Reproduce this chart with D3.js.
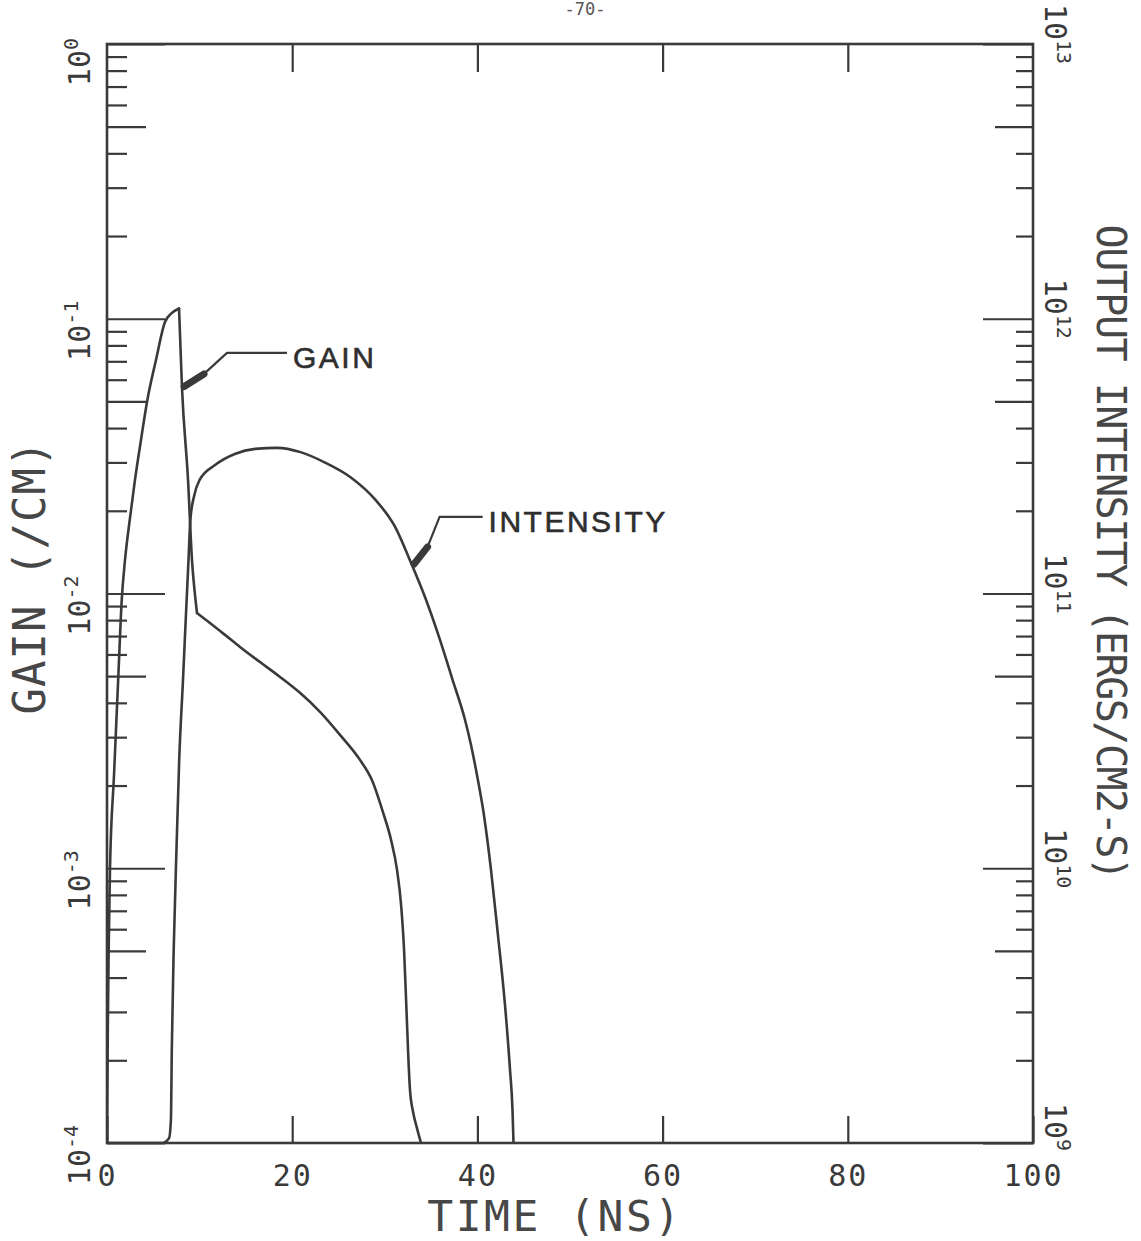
<!DOCTYPE html>
<html>
<head>
<meta charset="utf-8">
<script src="https://cdn.jsdelivr.net/npm/d3@7"></script>
<style>
  html, body { margin: 0; padding: 0; background: #fff; }
  svg { display: block; }
</style>
</head>
<body>
<div id="chart"></div>
<script>
// Time axis (ns)
const timeTicks = [0, 20, 40, 60, 80, 100];
const timeTopTicks = [20, 40, 60, 80];

// Left axis: gain (/cm), log decades
const gainDecades = [1e-4, 1e-3, 1e-2, 1e-1, 1e0];
// Right axis: output intensity (ergs/cm2-s), log decades
const intensityDecades = [1e9, 1e10, 1e11, 1e12, 1e13];

// Gain vs time
const gainTime = [0, 0.086, 0.194, 0.324, 0.756, 1.22, 1.59, 1.94, 2.48, 3.02, 3.67, 4.32,
  5.29, 6.26, 7.02, 7.78, 8.1, 8.75, 9.18, 9.5, 9.72, 11.12, 12.74, 14.36, 16.52, 18.68,
  20.84, 23.0, 25.16, 27.32, 28.62, 29.8, 30.67, 31.32, 31.76, 32.08, 32.3, 32.51, 32.72,
  33.05, 33.48, 33.91];
const gainValue = [1.0e-4, 2.58e-4, 5.48e-4, 1.0e-3, 2.18e-3, 4.97e-3, 9.46e-3, 1.32e-2,
  1.88e-2, 2.59e-2, 3.62e-2, 4.98e-2, 7.08e-2, 9.73e-2, 0.105, 0.109, 5.6e-2, 2.59e-2,
  1.32e-2, 9.9e-3, 8.49e-3, 7.81e-3, 7.07e-3, 6.39e-3, 5.63e-3, 4.97e-3, 4.35e-3, 3.71e-3,
  3.06e-3, 2.48e-3, 2.09e-3, 1.60e-3, 1.27e-3, 9.86e-4, 7.35e-4, 5.04e-4, 3.31e-4, 2.18e-4,
  1.56e-4, 1.30e-4, 1.13e-4, 1.0e-4];
// Times where the gain curve turns sharply (peak, then the knee after the drop)
const gainCorners = [7.78, 9.72];

// Output intensity vs time
const intensityTime = [0, 6.0, 6.7, 6.9, 7.0, 7.2, 7.5, 7.8, 8.2, 8.5, 8.8, 9.0, 9.4, 10.0,
  11.7, 13.8, 16.0, 18.4, 20.9, 23.6, 26.3, 29.0, 31.1, 32.72, 34.34, 35.96, 37.26, 38.66,
  39.31, 39.96, 40.71, 41.47, 42.22, 42.98, 43.52, 43.79, 43.9];
const intensityValue = [1.0e9, 1.0e9, 1.04e9, 1.21e9, 2.2e9, 5.0e9, 1.16e10, 2.5e10, 4.8e10,
  8.0e10, 1.32e11, 1.85e11, 2.26e11, 2.59e11, 2.94e11, 3.22e11, 3.36e11, 3.39e11, 3.27e11,
  2.99e11, 2.65e11, 2.19e11, 1.75e11, 1.32e11, 9.71e10, 6.78e10, 4.92e10, 3.47e10, 2.81e10,
  2.18e10, 1.56e10, 9.86e9, 5.71e9, 3.18e9, 1.85e9, 1.32e9, 1.0e9];

// Curve callouts: label text and the point on the curve the pointer touches
const gainCallout = { text: "GAIN", t: 8.1, v: 5.6e-2 };
const intensityCallout = { text: "INTENSITY", t: 33.0, v: 1.26e11 };

const W = 1141, H = 1241;
const ink = "#3a3a3a";
const mono = "'DejaVu Sans Mono', monospace";
const sans = "'Liberation Sans', Arial, sans-serif";

const plot = { left: 107, right: 1033, top: 44, bottom: 1143 };

const svg = d3.select("#chart").append("svg")
  .attr("width", W).attr("height", H)
  .attr("viewBox", `0 0 ${W} ${H}`);
svg.append("rect").attr("width", W).attr("height", H).attr("fill", "#fff");

const x = d3.scaleLinear().domain([0, 100]).range([plot.left, plot.right]);
const yG = d3.scaleLog().domain([1e-4, 1]).range([plot.bottom, plot.top]);
const yI = d3.scaleLog().domain([1e9, 1e13]).range([plot.bottom, plot.top]);

// log tick length: decade long, 5 medium, others short
function mantissa(d) { return Math.round(d / Math.pow(10, Math.floor(Math.log10(d) + 1e-9))); }

// Left (gain) axis ticks, drawn inward
const leftLen = d => mantissa(d) === 1 ? 58 : mantissa(d) === 5 ? 39 : 20;
const gL = svg.append("g").attr("transform", `translate(${plot.left},0)`)
  .call(d3.axisRight(yG).tickValues(yG.ticks()).tickFormat(() => "").tickSizeOuter(0));
gL.select(".domain").remove();
gL.selectAll(".tick line").attr("x2", d => leftLen(d)).attr("stroke", ink).attr("stroke-width", 2.2);

// Right (intensity) axis ticks, drawn inward
const rightLen = d => mantissa(d) === 1 ? 50 : mantissa(d) === 5 ? 38 : 17;
const gR = svg.append("g").attr("transform", `translate(${plot.right},0)`)
  .call(d3.axisLeft(yI).tickValues(yI.ticks()).tickFormat(() => "").tickSizeOuter(0));
gR.select(".domain").remove();
gR.selectAll(".tick line").attr("x2", d => -rightLen(d)).attr("stroke", ink).attr("stroke-width", 2.2);

// Bottom time axis with labels
const gB = svg.append("g").attr("transform", `translate(0,${plot.bottom})`)
  .call(d3.axisBottom(x).tickValues(timeTicks).tickSizeInner(-27).tickSizeOuter(0)
    .tickPadding(22).tickFormat(d3.format("d")));
gB.select(".domain").remove();
gB.selectAll(".tick line").attr("stroke", ink).attr("stroke-width", 2.2);
gB.selectAll(".tick text").attr("font-family", mono).attr("font-size", 30)
  .attr("fill", ink).attr("letter-spacing", 2);

// Top time ticks
const gT = svg.append("g").attr("transform", `translate(0,${plot.top})`)
  .call(d3.axisTop(x).tickValues(timeTopTicks).tickSizeInner(-28).tickSizeOuter(0).tickFormat(() => ""));
gT.select(".domain").remove();
gT.selectAll(".tick line").attr("stroke", ink).attr("stroke-width", 2.2);

// Frame
svg.append("rect")
  .attr("x", plot.left).attr("y", plot.top)
  .attr("width", plot.right - plot.left).attr("height", plot.bottom - plot.top)
  .attr("fill", "none").attr("stroke", ink).attr("stroke-width", 2.6);

// Power-of-ten label: "10" followed by a raised exponent; the "10" ends at the local origin
function powerLabel(g, exp) {
  const t = g.append("text").attr("font-family", mono).attr("font-size", 30).attr("fill", ink);
  const base = t.append("tspan").text("10");
  const w = base.node().getComputedTextLength();
  t.attr("x", -w);
  t.append("tspan").attr("dy", -12).attr("font-size", 20).text(exp);
}

gainDecades.forEach(d => {
  const g = svg.append("g").attr("transform", `translate(90,${yG(d) + 6}) rotate(-90)`);
  powerLabel(g, String(Math.round(Math.log10(d))));
});
intensityDecades.forEach(d => {
  const g = svg.append("g").attr("transform", `translate(1045,${yI(d) - 4}) rotate(90)`);
  powerLabel(g, String(Math.round(Math.log10(d))));
});

// Axis titles
const titleInk = "#474747";
svg.append("text").attr("x", 555).attr("y", 1231).attr("text-anchor", "middle")
  .attr("font-family", mono).attr("font-size", 43).attr("letter-spacing", 2.5)
  .attr("fill", titleInk).text("TIME (NS)");
svg.append("text").attr("transform", "translate(45,577) rotate(-90)").attr("text-anchor", "middle")
  .attr("font-family", mono).attr("font-size", 44).attr("letter-spacing", 1)
  .attr("fill", titleInk).text("GAIN (/CM)");
svg.append("text").attr("transform", "translate(1097,552) rotate(90)").attr("text-anchor", "middle")
  .attr("font-family", mono).attr("font-size", 40).attr("letter-spacing", -1.5)
  .attr("fill", titleInk).text("OUTPUT INTENSITY (ERGS/CM2-S)");

// Page number at the top edge
svg.append("text").attr("x", 585).attr("y", 15).attr("text-anchor", "middle")
  .attr("font-family", mono).attr("font-size", 17).attr("fill", "#555").text("-70-");

// Curves
svg.append("clipPath").attr("id", "plotClip").append("rect")
  .attr("x", plot.left).attr("y", plot.top - 2)
  .attr("width", plot.right - plot.left).attr("height", plot.bottom - plot.top + 3);

const gainData = gainTime.map((t, i) => ({ t, v: gainValue[i] }));
const intensityData = intensityTime.map((t, i) => ({ t, v: intensityValue[i] }));

const curves = svg.append("g").attr("clip-path", "url(#plotClip)")
  .attr("fill", "none").attr("stroke", ink).attr("stroke-width", 2.6)
  .attr("stroke-linejoin", "round").attr("stroke-linecap", "round");

// Gain: smooth pieces joined at the sharp corners
const gainLine = d3.line().x(d => x(d.t)).y(d => yG(d.v)).curve(d3.curveMonotoneX);
const cuts = [0, ...gainCorners.map(c => gainTime.indexOf(c)), gainTime.length - 1];
for (let k = 0; k < cuts.length - 1; k++) {
  curves.append("path").datum(gainData.slice(cuts[k], cuts[k + 1] + 1)).attr("d", gainLine);
}
curves.append("path").datum(intensityData)
  .attr("d", d3.line().x(d => x(d.t)).y(d => yI(d.v)).curve(d3.curveMonotoneX));

// Callouts: thick pointer at the curve, leader with an elbow, then the label
function callout(px, py, pointer, elbow, run, c) {
  const g = svg.append("g");
  const p1 = [px + pointer[0], py + pointer[1]];
  const p2 = [px + elbow[0], py + elbow[1]];
  const p3 = [p2[0] + run, p2[1]];
  g.append("path").attr("d", d3.line()([[px, py], p1, p2, p3]))
    .attr("fill", "none").attr("stroke", ink).attr("stroke-width", 2.2).attr("stroke-linejoin", "round");
  g.append("line").attr("x1", px + pointer[0] * 0.1).attr("y1", py + pointer[1] * 0.1)
    .attr("x2", p1[0]).attr("y2", p1[1])
    .attr("stroke", ink).attr("stroke-width", 7).attr("stroke-linecap", "round");
  g.append("text").attr("x", p3[0] + 6).attr("y", p3[1] + 15)
    .attr("font-family", sans).attr("font-size", 30).attr("letter-spacing", 2.5)
    .attr("fill", "#2e2e2e").attr("stroke", "#2e2e2e").attr("stroke-width", 0.6)
    .text(c.text);
}
callout(x(gainCallout.t), yG(gainCallout.v), [22, -14], [45, -35], 60, gainCallout);
callout(x(intensityCallout.t), yI(intensityCallout.v), [15, -19], [27, -49], 43, intensityCallout);
</script>
</body>
</html>
